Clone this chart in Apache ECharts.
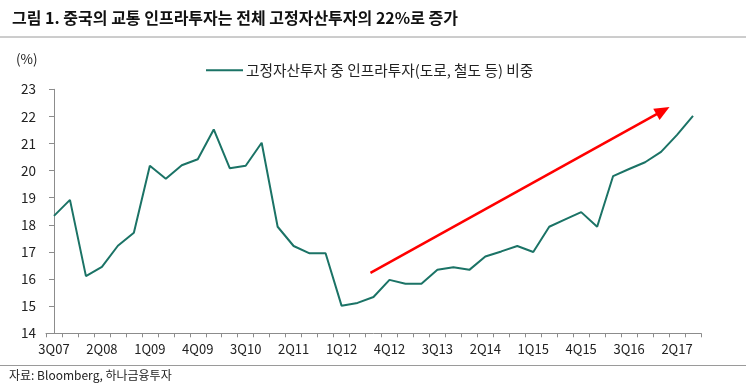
<!DOCTYPE html>
<html>
<head>
<meta charset="utf-8">
<script src="https://cdn.jsdelivr.net/npm/echarts@6/dist/echarts.min.js"></script>
<style>
html,body{margin:0;padding:0;background:#fff;}
#chart{width:746px;height:388px;}
</style>
</head>
<body>
<div id="chart"></div>
<script>
var categories = ['3Q07','4Q07','1Q08','2Q08','3Q08','4Q08','1Q09','2Q09','3Q09','4Q09',
  '1Q10','2Q10','3Q10','4Q10','1Q11','2Q11','3Q11','4Q11','1Q12','2Q12',
  '3Q12','4Q12','1Q13','2Q13','3Q13','4Q13','1Q14','2Q14','3Q14','4Q14',
  '1Q15','2Q15','3Q15','4Q15','1Q16','2Q16','3Q16','4Q16','1Q17','2Q17','3Q17'];
var infraShare = [18.33,18.92,16.11,16.45,17.23,17.71,20.18,19.70,20.20,20.42,
  21.52,20.09,20.18,21.03,17.93,17.22,16.95,16.95,15.02,15.12,
  15.34,15.97,15.83,15.83,16.34,16.44,16.34,16.83,17.02,17.22,
  17.00,17.93,18.20,18.47,17.93,19.80,20.06,20.31,20.69,21.32,22.02];
var seriesName = '고정자산투자 중 인프라투자(도로, 철도 등) 비중';
var yTicks = {min: 14, max: 23, interval: 1};
// trend arrow (annotation) in data space: [category position, value]
var trendStart = [19.81, 16.23];
var trendEnd = [38.12, 22.21];

var FONT = '"Noto Sans CJK KR", "Noto Sans", sans-serif';
var chart = echarts.init(document.getElementById('chart'));
var option = {
  backgroundColor: '#fff',
  animation: false,
  textStyle: {fontFamily: FONT},
  title: {
    text: '그림 1. 중국의 교통 인프라투자는 전체 고정자산투자의 22%로 증가',
    left: 7, top: 5,
    textStyle: {fontFamily: FONT, fontSize: 16, fontWeight: 'bold', color: '#111'}
  },
  legend: {
    data: [seriesName],
    left: 201, top: 58,
    icon: 'rect', itemWidth: 37, itemHeight: 2, itemGap: 6,
    textStyle: {fontFamily: FONT, fontSize: 14.7, color: '#222', padding: [0,0,0,-2]}
  },
  grid: {left: 46, right: 45, top: 89.3, bottom: 54.7, containLabel: false},
  xAxis: [{
    type: 'category',
    data: categories,
    boundaryGap: true,
    axisLine: {lineStyle: {color: '#8c8c8c', width: 1}},
    axisTick: {show: true, interval: 0, length: 4, lineStyle: {color: '#8c8c8c'}},
    axisLabel: {interval: 2, margin: 9, fontSize: 13, color: '#222', fontFamily: FONT},
    splitLine: {show: false}
  }, {
    type: 'value', min: -0.5, max: categories.length - 0.5, show: false
  }],
  yAxis: {
    type: 'value',
    min: yTicks.min, max: yTicks.max, interval: yTicks.interval,
    axisLine: {show: true, lineStyle: {color: '#8c8c8c', width: 1}},
    axisTick: {show: true, length: 5, lineStyle: {color: '#8c8c8c'}},
    axisLabel: {margin: 10, fontSize: 13.5, color: '#222', fontFamily: FONT},
    splitLine: {show: false}
  },
  graphic: [
    {type: 'line', shape: {x1: 0, y1: 37, x2: 746, y2: 37}, style: {stroke: '#9a9a9a', lineWidth: 1}},
    {type: 'line', shape: {x1: 0, y1: 365.5, x2: 746, y2: 365.5}, style: {stroke: '#9a9a9a', lineWidth: 1}},
    {type: 'text', left: 16, top: 52, style: {text: '(%)', fontSize: 13.5, fontFamily: FONT, fill: '#222'}},
    {type: 'text', left: 9, top: 369, style: {text: '자료: Bloomberg, 하나금융투자', fontSize: 12, fontFamily: FONT, fill: '#222'}}
  ],
  series: [{
    name: seriesName,
    type: 'line',
    data: infraShare,
    symbol: 'none',
    lineStyle: {color: '#1b7366', width: 2},
    itemStyle: {color: '#1b7366'}
  }, {
    name: 'trend',
    type: 'line',
    xAxisIndex: 1,
    data: [trendStart, trendEnd],
    symbol: 'none',
    silent: true,
    lineStyle: {width: 0, opacity: 0},
    markLine: {
      silent: true,
      symbol: ['none', 'triangle'],
      symbolSize: [13, 15],
      label: {show: false},
      lineStyle: {color: '#ff0000', width: 2.5, type: 'solid'},
      itemStyle: {color: '#ff0000'},
      emphasis: {disabled: true},
      data: [[{coord: trendStart}, {coord: trendEnd}]]
    }
  }]
};
chart.setOption(option);
</script>
</body>
</html>
